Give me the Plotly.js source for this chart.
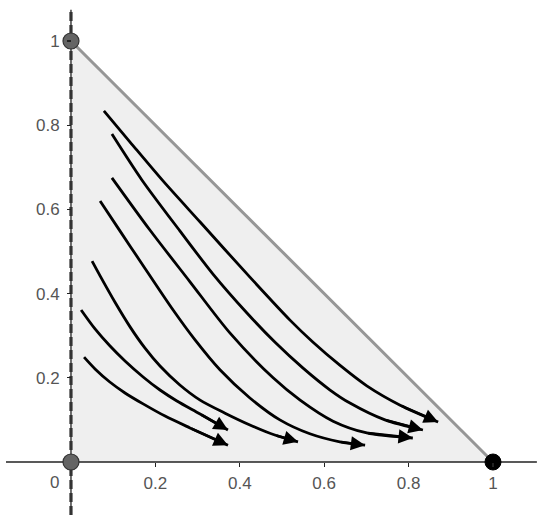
<!DOCTYPE html>
<html>
<head>
<meta charset="utf-8">
<script src="https://cdn.plot.ly/plotly-3.0.1.min.js"></script>
<style>html,body{margin:0;padding:0;background:#fff;}#chart{width:550px;height:523px;}</style>
</head>
<body>
<div id="chart"></div>
<script>
// Simplex vertices
const triX = [0, 1, 0, 0];
const triY = [0, 0, 1, 0];
// Vertex points
const vertGrayX = [0, 0];
const vertGrayY = [1, 0];
const vertBlackX = [1];
const vertBlackY = [0];
// Trajectories
const c1x = [0.078, 0.140, 0.216, 0.306, 0.424, 0.519, 0.573, 0.637, 0.701, 0.780, 0.870];
const c1y = [0.834, 0.760, 0.670, 0.570, 0.439, 0.337, 0.285, 0.230, 0.181, 0.135, 0.095];
const c2x = [0.097, 0.168, 0.258, 0.336, 0.417, 0.483, 0.550, 0.614, 0.661, 0.744, 0.834];
const c2y = [0.779, 0.670, 0.549, 0.447, 0.354, 0.285, 0.223, 0.171, 0.140, 0.100, 0.076];
const c3x = [0.097, 0.187, 0.282, 0.377, 0.479, 0.543, 0.621, 0.701, 0.810];
const c3y = [0.675, 0.551, 0.428, 0.306, 0.200, 0.147, 0.097, 0.069, 0.057];
const c4x = [0.069, 0.116, 0.164, 0.242, 0.294, 0.353, 0.424, 0.495, 0.566, 0.637, 0.697];
const c4y = [0.620, 0.549, 0.477, 0.361, 0.290, 0.219, 0.152, 0.100, 0.067, 0.048, 0.040];
const c5x = [0.050, 0.069, 0.104, 0.140, 0.175, 0.211, 0.258, 0.306, 0.365, 0.424, 0.483, 0.538];
const c5y = [0.477, 0.442, 0.380, 0.321, 0.271, 0.228, 0.183, 0.147, 0.116, 0.088, 0.064, 0.048];
const c6x = [0.024, 0.057, 0.092, 0.128, 0.171, 0.211, 0.251, 0.306, 0.372];
const c6y = [0.361, 0.316, 0.276, 0.240, 0.202, 0.171, 0.145, 0.114, 0.076];
const c7x = [0.031, 0.057, 0.092, 0.128, 0.171, 0.223, 0.282, 0.372];
const c7y = [0.249, 0.221, 0.190, 0.164, 0.138, 0.109, 0.081, 0.040];
// Axes extents and ticks
const xAxisExtent = [-0.154, 1.104];
const yAxisExtent = [-0.126, 1.074];
const tickVals = [0.2, 0.4, 0.6, 0.8, 1];
const tickText = ['0.2', '0.4', '0.6', '0.8', '1'];

const curves = [[c1x, c1y], [c2x, c2y], [c3x, c3y], [c4x, c4y], [c5x, c5y], [c6x, c6y], [c7x, c7y]];

const traces = [];
traces.push({x: triX, y: triY, mode: 'lines', fill: 'toself', fillcolor: 'rgb(239,239,239)',
  line: {width: 0, color: 'rgba(0,0,0,0)'}, hoverinfo: 'skip', showlegend: false});
traces.push({x: [triX[1], triX[2]], y: [triY[1], triY[2]], mode: 'lines',
  line: {color: 'rgb(150,150,150)', width: 3}, hoverinfo: 'skip', showlegend: false});
// axes lines
traces.push({x: xAxisExtent, y: [0, 0], mode: 'lines', line: {color: '#222', width: 1.3}, showlegend: false, hoverinfo: 'skip'});
traces.push({x: [0, 0], y: yAxisExtent, mode: 'lines', line: {color: '#222', width: 1.3}, showlegend: false, hoverinfo: 'skip'});
traces.push({x: [0, 0], y: yAxisExtent, mode: 'lines', line: {color: '#333', width: 3.2, dash: '9px,4px'}, showlegend: false, hoverinfo: 'skip'});
curves.forEach(c => {
  traces.push({x: c[0], y: c[1], mode: 'lines', line: {color: '#000', width: 2.8, shape: 'spline', smoothing: 0.8},
    hoverinfo: 'skip', showlegend: false});
});
traces.push({x: vertGrayX, y: vertGrayY, mode: 'markers', marker: {size: 16, color: 'rgb(100,100,100)', line: {color: '#333', width: 1.2}},
  showlegend: false, hoverinfo: 'skip'});
traces.push({x: vertBlackX, y: vertBlackY, mode: 'markers', marker: {size: 16, color: '#000', line: {color: '#000', width: 1}},
  showlegend: false, hoverinfo: 'skip'});

const annotations = curves.map(c => {
  const n = c[0].length;
  return {x: c[0][n - 1], y: c[1][n - 1], ax: c[0][n - 2], ay: c[1][n - 2], xref: 'x', yref: 'y', axref: 'x', ayref: 'y',
    showarrow: true, arrowhead: 2, arrowsize: 1.1, arrowwidth: 2.6, arrowcolor: '#000', standoff: 0, text: ''};
});
annotations.push({x: 0, y: 0, xref: 'x', yref: 'y', text: '0', showarrow: false, xshift: -16, yshift: -20,
  font: {family: 'Liberation Sans, Arial, sans-serif', size: 17, color: '#555'}});

const layout = {
  width: 550, height: 523,
  margin: {l: 0, r: 0, t: 0, b: 0, pad: 0},
  paper_bgcolor: '#fff', plot_bgcolor: '#fff',
  showlegend: false,
  font: {family: 'Liberation Sans, Arial, sans-serif', size: 17, color: '#555'},
  xaxis: {range: [-0.1682, 1.1351], showgrid: false, zeroline: false, showline: false,
    tickvals: tickVals, ticktext: tickText, ticks: 'outside', ticklen: 4, tickwidth: 1.3, tickcolor: '#222',
    anchor: 'free', position: 61 / 523, ticklabelstandoff: 2, fixedrange: true},
  yaxis: {range: [-0.1449, 1.0974], showgrid: false, zeroline: false, showline: false,
    tickvals: tickVals, ticktext: tickText, ticks: 'outside', ticklen: 4, tickwidth: 1.3, tickcolor: '#222',
    anchor: 'free', position: 71 / 550, ticklabelstandoff: 4, fixedrange: true},
  annotations: annotations
};

Plotly.newPlot('chart', traces, layout, {staticPlot: true, displayModeBar: false});
</script>
</body>
</html>
